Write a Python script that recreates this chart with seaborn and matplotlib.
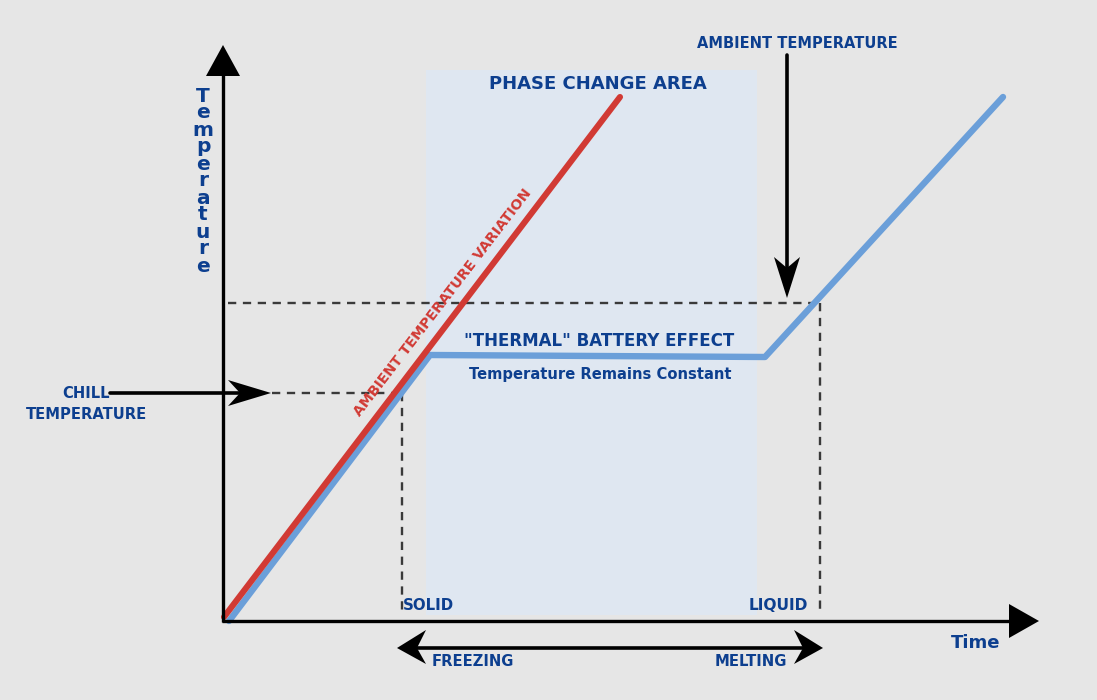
import matplotlib
matplotlib.use("Agg")
import matplotlib.pyplot as plt
import seaborn as sns
import pandas as pd

# ---- data (diagram coordinates, pixel-like units, y grows downward) ----
red_x = [224, 620]
red_y = [617, 97]
blue_x = [229, 430, 765, 1003]
blue_y = [621, 355, 357, 97]

phase_x = [426, 757]
phase_y = [70, 615]

ambient_level = 303
chill_level = 393
solid_x = 402
liquid_x = 820

labels = {
    "phase": "PHASE CHANGE AREA",
    "ambient": "AMBIENT TEMPERATURE",
    "chill": "CHILL\nTEMPERATURE",
    "thermal": '"THERMAL" BATTERY EFFECT',
    "constant": "Temperature Remains Constant",
    "variation": "AMBIENT TEMPERATURE VARIATION",
    "solid": "SOLID",
    "liquid": "LIQUID",
    "freezing": "FREEZING",
    "melting": "MELTING",
    "time": "Time",
    "temp": "Temperature",
}

BG = "#e6e6e6"
NAVY = "#0d3f8f"
RED = "#d13a34"
BLUE = "#6b9fd9"
DASH = "#3a3a3a"

sns.set_theme(style="white")
plt.rcParams["font.family"] = ["DejaVu Sans"]

fig = plt.figure(figsize=(10.97, 7.0), dpi=100, facecolor=BG)
ax = fig.add_axes([0, 0, 1, 1])
ax.set_facecolor(BG)

# phase change area
ax.fill_between(phase_x, phase_y[0], phase_y[1], color="#dfe7f1", zorder=1, lw=0)

# dashed guides
dkw = dict(color=DASH, lw=1.7, ls=(0, (3.5, 2.8)), zorder=2)
ax.plot([228, liquid_x], [ambient_level, ambient_level], **dkw)
ax.plot([liquid_x, liquid_x], [ambient_level, 615], **dkw)
ax.plot([272, solid_x], [chill_level, chill_level], **dkw)
ax.plot([solid_x, solid_x], [chill_level, 615], **dkw)

# lines
df_red = pd.DataFrame({"x": red_x, "y": red_y})
df_blue = pd.DataFrame({"x": blue_x, "y": blue_y})
sns.lineplot(data=df_red, x="x", y="y", ax=ax, color=RED, lw=4.4, sort=False, zorder=4)
sns.lineplot(data=df_blue, x="x", y="y", ax=ax, color=BLUE, lw=4.6, sort=False, zorder=3)
ax.set_xlim(0, 1097)
ax.set_ylim(700, 0)
ax.axis("off")

# axes and arrows
AX_X, AX_Y = 223, 621
ax.plot([AX_X, AX_X], [AX_Y + 1, 72], color="black", lw=2.4, zorder=5, solid_capstyle="butt")
ax.plot([AX_X - 1, 1012], [AX_Y, AX_Y], color="black", lw=2.4, zorder=5, solid_capstyle="butt")
ax.fill([AX_X, AX_X - 17, AX_X + 17], [45, 76, 76], color="black", zorder=6, lw=0)
ax.fill([1039, 1009, 1009], [AX_Y, 604, 638], color="black", zorder=6, lw=0)

# chill arrow
ax.plot([110, 245], [chill_level, chill_level], color="black", lw=2.6, zorder=5)
ax.fill([271, 228, 240, 228], [chill_level, 380, chill_level, 406], color="black", zorder=6, lw=0)

# ambient arrow
ax.plot([787, 787], [55, 280], color="black", lw=2.6, zorder=5)
ax.fill([787, 774, 787, 800], [298, 257, 268, 257], color="black", zorder=6, lw=0)

# freezing / melting double arrow
ax.plot([410, 810], [648, 648], color="black", lw=2.6, zorder=5)
ax.fill([397, 426, 417, 426], [648, 630, 648, 664], color="black", zorder=6, lw=0)
ax.fill([823, 794, 803, 794], [648, 630, 648, 664], color="black", zorder=6, lw=0)

# texts
bold = dict(color=NAVY, fontweight="bold")
ax.text(598, 84, labels["phase"], ha="center", va="center", fontsize=13, **bold)
ax.text(797, 44, labels["ambient"], ha="center", va="center", fontsize=10.5, **bold)
ax.text(86, 404, labels["chill"], ha="center", va="center", fontsize=10.6,
        linespacing=1.5, **bold)
ax.text(599, 341, labels["thermal"], ha="center", va="center", fontsize=12, **bold)
ax.text(600, 375, labels["constant"], ha="center", va="center", fontsize=10.6, **bold)
ax.text(443, 303, labels["variation"], ha="center", va="center", fontsize=10.2,
        rotation=52.5, rotation_mode="anchor", color=RED, fontweight="bold")
ax.text(403, 605, labels["solid"], ha="left", va="center", fontsize=10.8, **bold)
ax.text(808, 605, labels["liquid"], ha="right", va="center", fontsize=11.2, **bold)
ax.text(432, 662, labels["freezing"], ha="left", va="center", fontsize=10.6, **bold)
ax.text(787, 662, labels["melting"], ha="right", va="center", fontsize=10.7, **bold)
ax.text(976, 643, labels["time"], ha="center", va="center", fontsize=13, **bold)

letters = list(labels["temp"])
for i, ch in enumerate(letters):
    ax.text(203, 96 + i * 17.0, ch, ha="center", va="center", fontsize=14.5, **bold)

fig.savefig("out.png", dpi=100, facecolor=BG)
